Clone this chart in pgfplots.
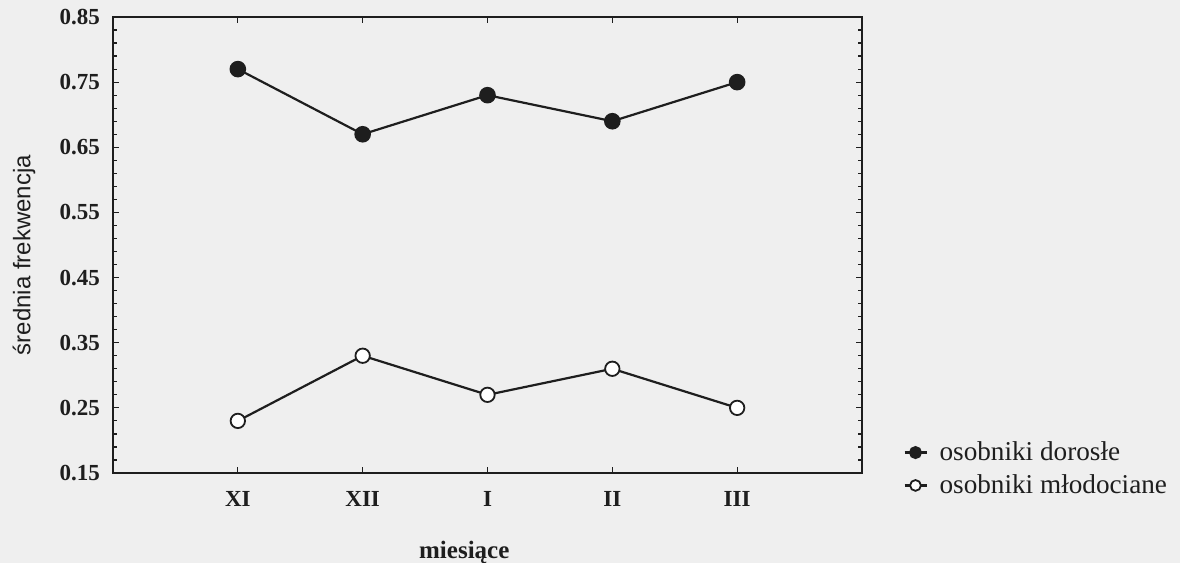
\documentclass[border=0pt]{standalone}
\usepackage{fontspec}
\setmainfont{Liberation Serif}
\setsansfont{Liberation Sans}
\usepackage{pgfplots}
\pgfplotsset{compat=1.18}
\definecolor{paper}{RGB}{239,239,239}
\definecolor{ink}{RGB}{30,30,30}

\begin{document}
\begin{tikzpicture}
% page background
\fill[paper] (-56.5pt,-45pt) rectangle (533.5pt,236.5pt);
\useasboundingbox (-56.5pt,-45pt) rectangle (533.5pt,236.5pt);
\begin{axis}[
  at={(0,0)}, anchor=south west,
  scale only axis,
  width=374.5pt, height=228pt,
  xmin=0, xmax=6,
  ymin=0.15, ymax=0.85,
  xtick={1,2,3,4,5},
  xticklabels={XI,XII,I,II,III},
  ytick={0.15,0.25,0.35,0.45,0.55,0.65,0.75,0.85},
  minor y tick num=4,
  tick align=inside,
  major tick length=3pt,
  minor tick length=2pt,
  every tick/.style={ink, line width=0.6pt},
  axis line style={ink, line width=0.9pt},
  /pgf/number format/assume math mode=true,
  /pgf/number format/fixed,
  /pgf/number format/fixed zerofill,
  /pgf/number format/precision=2,
  ticklabel style={font=\fontsize{11.5}{13}\selectfont\bfseries, text=ink},
  xticklabel style={yshift=-5.5pt},
  yticklabel style={xshift=-3pt},
  xlabel={miesiące},
  xlabel style={at={(axis description cs:0.469,0)}, anchor=center, yshift=-39.5pt,
    font=\fontsize{12.5}{14}\selectfont\bfseries, text=ink},
  ylabel={średnia frekwencja},
  ylabel style={at={(axis description cs:0,0.478)}, anchor=center, yshift=44.5pt,
    font=\fontsize{12}{14}\selectfont\sffamily, text=ink},
  legend style={draw=none, fill=none, at={(axis description cs:0,0)}, anchor=west,
    xshift=395pt, yshift=2pt, inner sep=0pt, row sep=3.5pt,
    font=\fontsize{13.6}{15}\selectfont, text=ink,
    nodes={inner sep=1pt}},
  legend cell align=left,
  legend image code/.code={%
    \draw[#1, mark size=2.7pt, mark repeat=2, mark phase=2]
      plot coordinates {(0pt,0pt) (5.5pt,0pt) (11pt,0pt)};
    \path (16pt,0pt);},
]
% adult individuals
\addplot[ink, line width=1.1pt, mark=*, mark size=3.6pt,
  mark options={fill=ink, draw=ink}]
  coordinates {(1,0.77) (2,0.67) (3,0.73) (4,0.69) (5,0.75)};
\addlegendentry{osobniki dorosłe}
% juvenile individuals
\addplot[ink, line width=1.1pt, mark=*, mark size=3.6pt,
  mark options={fill=white, draw=ink, line width=0.9pt}]
  coordinates {(1,0.23) (2,0.33) (3,0.27) (4,0.31) (5,0.25)};
\addlegendentry{osobniki młodociane}
\end{axis}
\end{tikzpicture}
\end{document}
